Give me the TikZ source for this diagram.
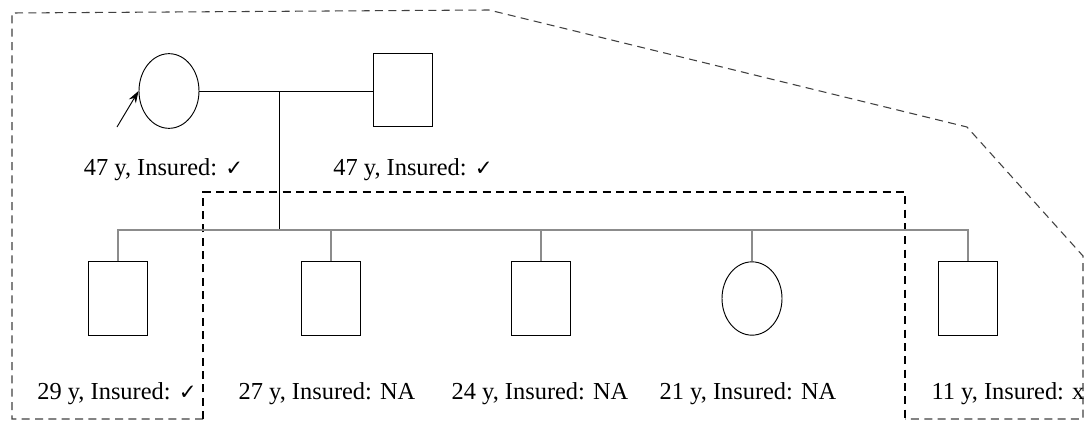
\documentclass[tikz,border=0pt]{standalone}
\usepackage{fontspec}
\setmainfont{Liberation Serif}
\newfontfamily\symbfont{DejaVu Sans}
\usetikzlibrary{shapes.geometric,arrows.meta}
\newcommand{\yes}{{\symbfont\fontsize{16}{16}\selectfont ✓}}

\begin{document}
\begin{tikzpicture}[x=0.75pt,y=-0.75pt,
    male/.style={draw,line width=0.8pt,rectangle,inner sep=0pt,minimum width=44pt,minimum height=55pt},
    female/.style={draw,line width=0.7pt,ellipse,inner sep=0pt,minimum width=45pt,minimum height=56pt},
    lbl/.style={anchor=base,inner sep=0pt,font=\fontsize{18.3}{22}\selectfont},
    kin/.style={line width=0.9pt,black!45}]
    \useasboundingbox (0,0) rectangle (1084,421);
    % grouping outlines
    \draw[dash pattern=on 6pt off 4pt,line width=0.8pt,black!75] (203,419) -- (12,419) -- (12,13) -- (489,10) -- (967,127) -- (1083,256) -- (1083,419) -- (905,419);
    \draw[dash pattern=on 6pt off 4pt,line width=0.8pt] (203,419) -- (203,192) -- (905,192) -- (905,419);
    % parents
    \node[female] (mom) at (169,91) {};
    \node[male] (dad) at (403,90) {};
    \coordinate (prob) at (117,127);
    \draw[->,>={Stealth[length=9pt,width=6pt]},line width=0.7pt] (prob) -- (mom.west);
    \draw[line width=0.7pt] (mom.east) -- (mom.east -| dad.west);
    \coordinate (sib) at (279,230);
    \draw[line width=0.7pt] (mom.east -| sib) -- (sib);
    \node[lbl] (lmom) at (163.5,175) {47 y, Insured: \yes};
    \node[lbl] (ldad) at (413,175) {47 y, Insured: \yes};
    % children
    \node[male] (c1) at (118,298.5) {};
    \node[male] (c2) at (331,298.5) {};
    \node[male] (c3) at (541,298.5) {};
    \node[female,minimum height=55pt] (c4) at (752,298.5) {};
    \node[male] (c5) at (968,298.5) {};
    \draw[kin] (c1.north) -- (c1.north |- sib) -- (c5.north |- sib) -- (c5.north);
    \draw[kin] (c2.north) -- (c2.north |- sib);
    \draw[kin] (c3.north) -- (c3.north |- sib);
    \draw[kin] (c4.north) -- (c4.north |- sib);
    \node[lbl] (l1) at (117,399) {29 y, Insured: \yes};
    \node[lbl] (l2) at (327,399) {27 y, Insured: NA};
    \node[lbl] (l3) at (540,399) {24 y, Insured: NA};
    \node[lbl] (l4) at (748,399) {21 y, Insured: NA};
    \node[lbl] (l5) at (1008,399) {11 y, Insured: x};
\end{tikzpicture}
\end{document}
